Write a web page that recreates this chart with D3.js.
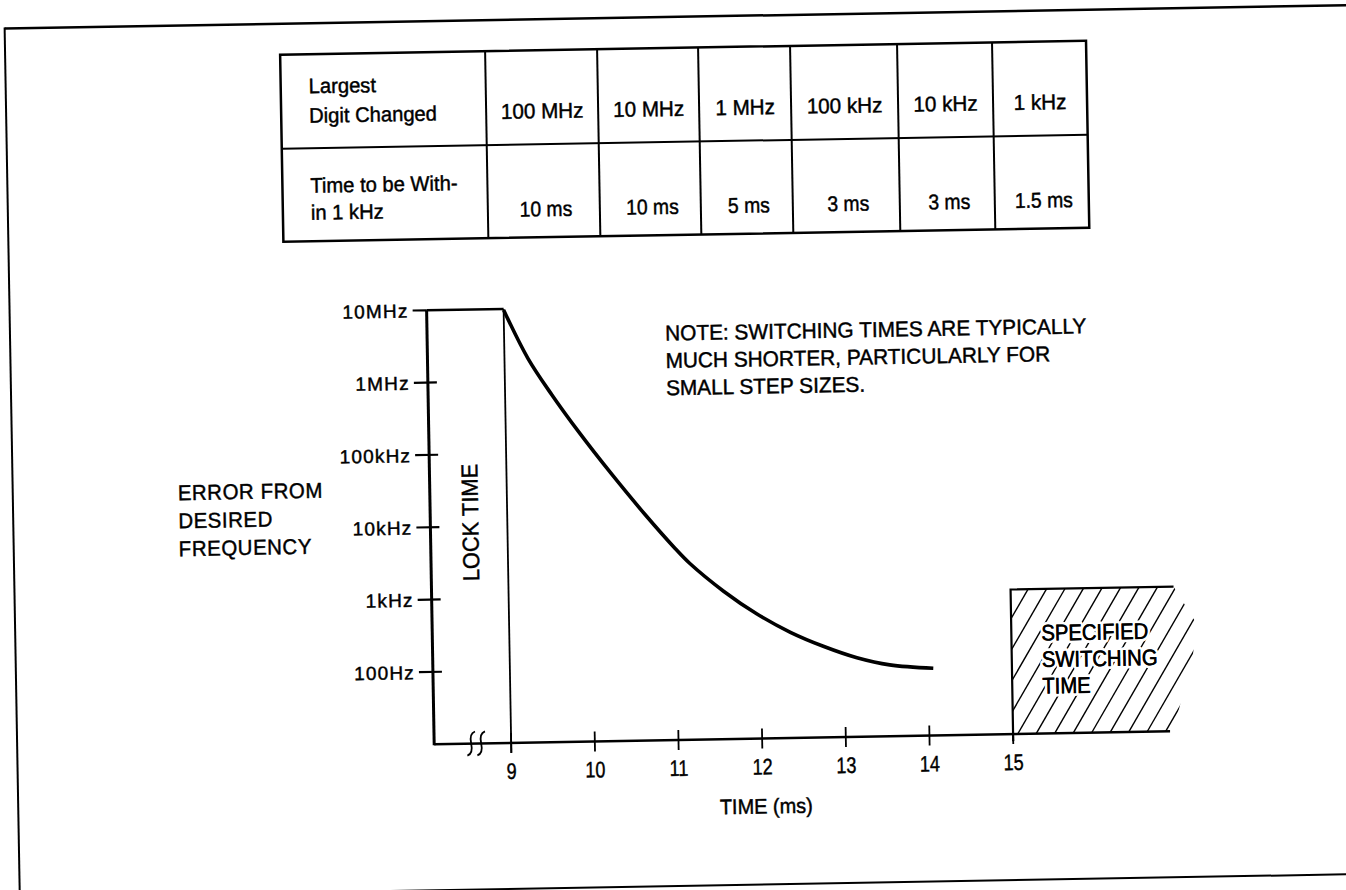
<!DOCTYPE html>
<html>
<head>
<meta charset="utf-8">
<script src="https://cdn.jsdelivr.net/npm/d3@7"></script>
<style>
    body { margin: 0; background: #fff; }
    svg { display: block; }
    text { font-family: "Liberation Sans", Arial, sans-serif; fill: #000; stroke: #000; stroke-width: 0.45; }
</style>
</head>
<body>
<svg id="chart" width="1346" height="890"></svg>
<script>
// ── Table content ──
const digitChanged = ["100 MHz", "10 MHz", "1 MHz", "100 kHz", "10 kHz", "1 kHz"];
const settleTime = ["10 ms", "10 ms", "5 ms", "3 ms", "3 ms", "1.5 ms"];
const rowHeads = [["Largest", "Digit Changed"], ["Time to be With-", "in 1 kHz"]];

// ── Settling curve (time in ms, error in Hz) ──
const timeMs = [9.0, 9.28, 9.56, 9.87, 10.26, 10.65, 11.0, 11.17, 11.57, 11.96, 12.36, 12.75, 13.15, 13.54, 14.06];
const errorHz = [9.7e6, 2.05e6, 6.3e5, 1.93e5, 4.85e4, 1.32e4, 4.44e3, 2.75e3, 1110, 531, 289, 182, 124, 97, 85];

const yTickValues = [1e7, 1e6, 1e5, 1e4, 1e3, 100];
const yTickLabels = ["10MHz", "1MHz", "100kHz", "10kHz", "1kHz", "100Hz"];
const xTickValues = [9, 10, 11, 12, 13, 14, 15];

const lockTime = 9;          // ms
const lockStartHz = 1e7;
const specTime = 15;         // ms
const specLevelHz = 1000;

const noteLines = ["NOTE: SWITCHING TIMES ARE TYPICALLY", "MUCH SHORTER, PARTICULARLY FOR", "SMALL STEP SIZES."];
const yTitleLines = ["ERROR FROM", "DESIRED", "FREQUENCY"];
const boxLines = ["SPECIFIED", "SWITCHING", "TIME"];

// ── Layout ──
const svg = d3.select("#chart");
const page = svg.append("g").attr("transform", "rotate(-1, 673, 445)");   // scan is slightly tilted

const x = d3.scaleLinear().domain([9, 15]).range([506, 1008]);
const y = d3.scaleLog().domain([10, 1e7]).range([740, 306]);
const axisX = 429;
const baseY = y(10);

function txt(parent, str, px, py, size, k, anchor, rot) {
    return parent.append("text")
        .attr("transform", `translate(${px},${py})` + (rot ? ` rotate(${rot})` : "") + ` scale(${k},1)`)
        .attr("font-size", size)
        .attr("text-anchor", anchor || "start")
        .text(str);
}

// ── Page frame ──
const frame = page.append("g").attr("stroke", "#000").attr("fill", "none");
frame.append("line").attr("x1", 12).attr("y1", 17).attr("x2", 1380).attr("y2", 17).attr("stroke-width", 2.5);
frame.append("line").attr("x1", 12).attr("y1", 16).attr("x2", 12).attr("y2", 920).attr("stroke-width", 2);
frame.append("line").attr("x1", 340).attr("y1", 886).attr("x2", 1380).attr("y2", 886).attr("stroke-width", 2);

// ── Table ──
const colEdges = [287, 492, 604, 705, 797, 904, 999, 1093];
const rowEdges = [48, 142, 235];
const table = page.append("g");
table.append("rect")
    .attr("x", colEdges[0]).attr("y", rowEdges[0])
    .attr("width", colEdges[colEdges.length - 1] - colEdges[0])
    .attr("height", rowEdges[2] - rowEdges[0])
    .attr("fill", "none").attr("stroke", "#000").attr("stroke-width", 2.5);
table.append("line")
    .attr("x1", colEdges[0]).attr("x2", colEdges[colEdges.length - 1])
    .attr("y1", rowEdges[1]).attr("y2", rowEdges[1])
    .attr("stroke", "#000").attr("stroke-width", 2);
table.selectAll("line.col")
    .data(colEdges.slice(1, -1))
    .enter().append("line")
    .attr("class", "col")
    .attr("x1", d => d).attr("x2", d => d)
    .attr("y1", rowEdges[0]).attr("y2", rowEdges[2])
    .attr("stroke", "#000").attr("stroke-width", 2);

txt(table, rowHeads[0][0], 315, 87, 21, 0.96);
txt(table, rowHeads[0][1], 315, 116.5, 21, 0.96);
txt(table, rowHeads[1][0], 315, 186.5, 21, 0.96);
txt(table, rowHeads[1][1], 315, 213.5, 21, 0.96);

digitChanged.forEach((d, i) => {
    const cx = (colEdges[i + 1] + colEdges[i + 2]) / 2;
    txt(table, d, cx, 116, 21.5, 0.96, "middle");
});
settleTime.forEach((d, i) => {
    const cx = (colEdges[i + 1] + colEdges[i + 2]) / 2 + 2;
    txt(table, d, cx, 214, 21.5, 0.9, "middle");
});

// ── Chart ──
const chart = page.append("g");

// specified switching time box (hatched)
const x15 = x(specTime);
const yTop = y(specLevelHz);
const clip = svg.append("defs").append("clipPath").attr("id", "hatch-clip");
clip.append("polygon").attr("points", [
    [x15, yTop], [x15 + 163, yTop], [x15 + 185, 632], [x15 + 181, 666], [x15 + 160, baseY], [x15, baseY]
].map(p => p.join(",")).join(" "));

const hatchRise = baseY - yTop;
const hatchRun = hatchRise / Math.tan(59 * Math.PI / 180);
chart.append("g").attr("clip-path", "url(#hatch-clip)")
    .selectAll("line")
    .data(d3.range(-8, 14))
    .enter().append("line")
    .attr("x1", k => x15 + 17.5 + k * 18.5 - hatchRun)
    .attr("y1", baseY)
    .attr("x2", k => x15 + 17.5 + k * 18.5)
    .attr("y2", yTop)
    .attr("stroke", "#000").attr("stroke-width", 1.4);

chart.append("path")
    .attr("d", `M${x15},${baseY + 7}V${yTop}H${x15 + 163}`)
    .attr("fill", "none").attr("stroke", "#000").attr("stroke-width", 2.2);

const boxText = chart.append("g");
boxLines.forEach((s, i) => {
    txt(boxText, s, x15 + 30, 647 + i * 26.5, 22.5, 0.9)
        .style("stroke", "#fff").style("stroke-width", 6)
        .attr("paint-order", "stroke").attr("stroke-linejoin", "round");
    txt(boxText, s, x15 + 30, 647 + i * 26.5, 22.5, 0.9);
});

// x axis
chart.append("line")
    .attr("x1", axisX).attr("x2", x15 + 157)
    .attr("y1", baseY).attr("y2", baseY)
    .attr("stroke", "#000").attr("stroke-width", 2.5);

// axis break marks
[466, 476].forEach(cx => {
    chart.append("path")
        .attr("d", `M${cx + 4},${baseY - 12} Q${cx - 2},${baseY - 10} ${cx},${baseY} T${cx - 4},${baseY + 12}`)
        .attr("fill", "none").attr("stroke", "#000").attr("stroke-width", 1.8);
});

// x ticks and labels
chart.selectAll("line.xtick")
    .data(xTickValues)
    .enter().append("line")
    .attr("class", "xtick")
    .attr("x1", d => x(d)).attr("x2", d => x(d))
    .attr("y1", baseY - 10).attr("y2", baseY + 10)
    .attr("stroke", "#000").attr("stroke-width", 1.8);
xTickValues.forEach(v => txt(chart, String(v), x(v), 776, 22.5, 0.8, "middle"));

txt(chart, "TIME (ms)", x(12) + 3, 815, 21, 0.95, "middle");

// y axis, ticks and labels
chart.append("line")
    .attr("x1", axisX).attr("x2", axisX)
    .attr("y1", y(1e7)).attr("y2", baseY + 1)
    .attr("stroke", "#000").attr("stroke-width", 3);
chart.selectAll("line.ytick")
    .data(yTickValues)
    .enter().append("line")
    .attr("class", "ytick")
    .attr("x1", axisX - 14).attr("x2", d => d === 1e7 ? axisX : axisX + 9)
    .attr("y1", d => y(d)).attr("y2", d => y(d))
    .attr("stroke", "#000").attr("stroke-width", 2.2);
yTickValues.forEach((v, i) => {
    txt(chart, yTickLabels[i], axisX - 18, y(v) + 7, 19, 1, "end")
        .attr("letter-spacing", 1.2);
});

yTitleLines.forEach((s, i) => txt(chart, s, 177, 491.5 + i * 28, 21.5, 0.95).attr("letter-spacing", 0.6));

// lock time: flat at 10 MHz, then vertical marker at 9 ms
chart.append("path")
    .attr("d", `M${axisX},${y(lockStartHz)}H${x(lockTime)}`)
    .attr("fill", "none").attr("stroke", "#000").attr("stroke-width", 2.5);
chart.append("line")
    .attr("x1", x(lockTime)).attr("x2", x(lockTime))
    .attr("y1", y(lockStartHz)).attr("y2", baseY + 10)
    .attr("stroke", "#000").attr("stroke-width", 1.8);
txt(chart, "LOCK TIME", 477, 519, 23, 0.95, "middle", -90);

// settling curve
const curveData = timeMs.map((t, i) => ({ t: t, f: errorHz[i] }));
const line = d3.line()
    .x(d => x(d.t))
    .y(d => y(d.f))
    .curve(d3.curveCatmullRom.alpha(0.5));
chart.append("path")
    .datum(curveData)
    .attr("d", line)
    .attr("fill", "none").attr("stroke", "#000").attr("stroke-width", 3.6)
    .attr("stroke-linecap", "butt");

// note
noteLines.forEach((s, i) => txt(chart, s, 667, 340.5 + i * 27.3, 21.5, 0.97));
</script>
</body>
</html>
